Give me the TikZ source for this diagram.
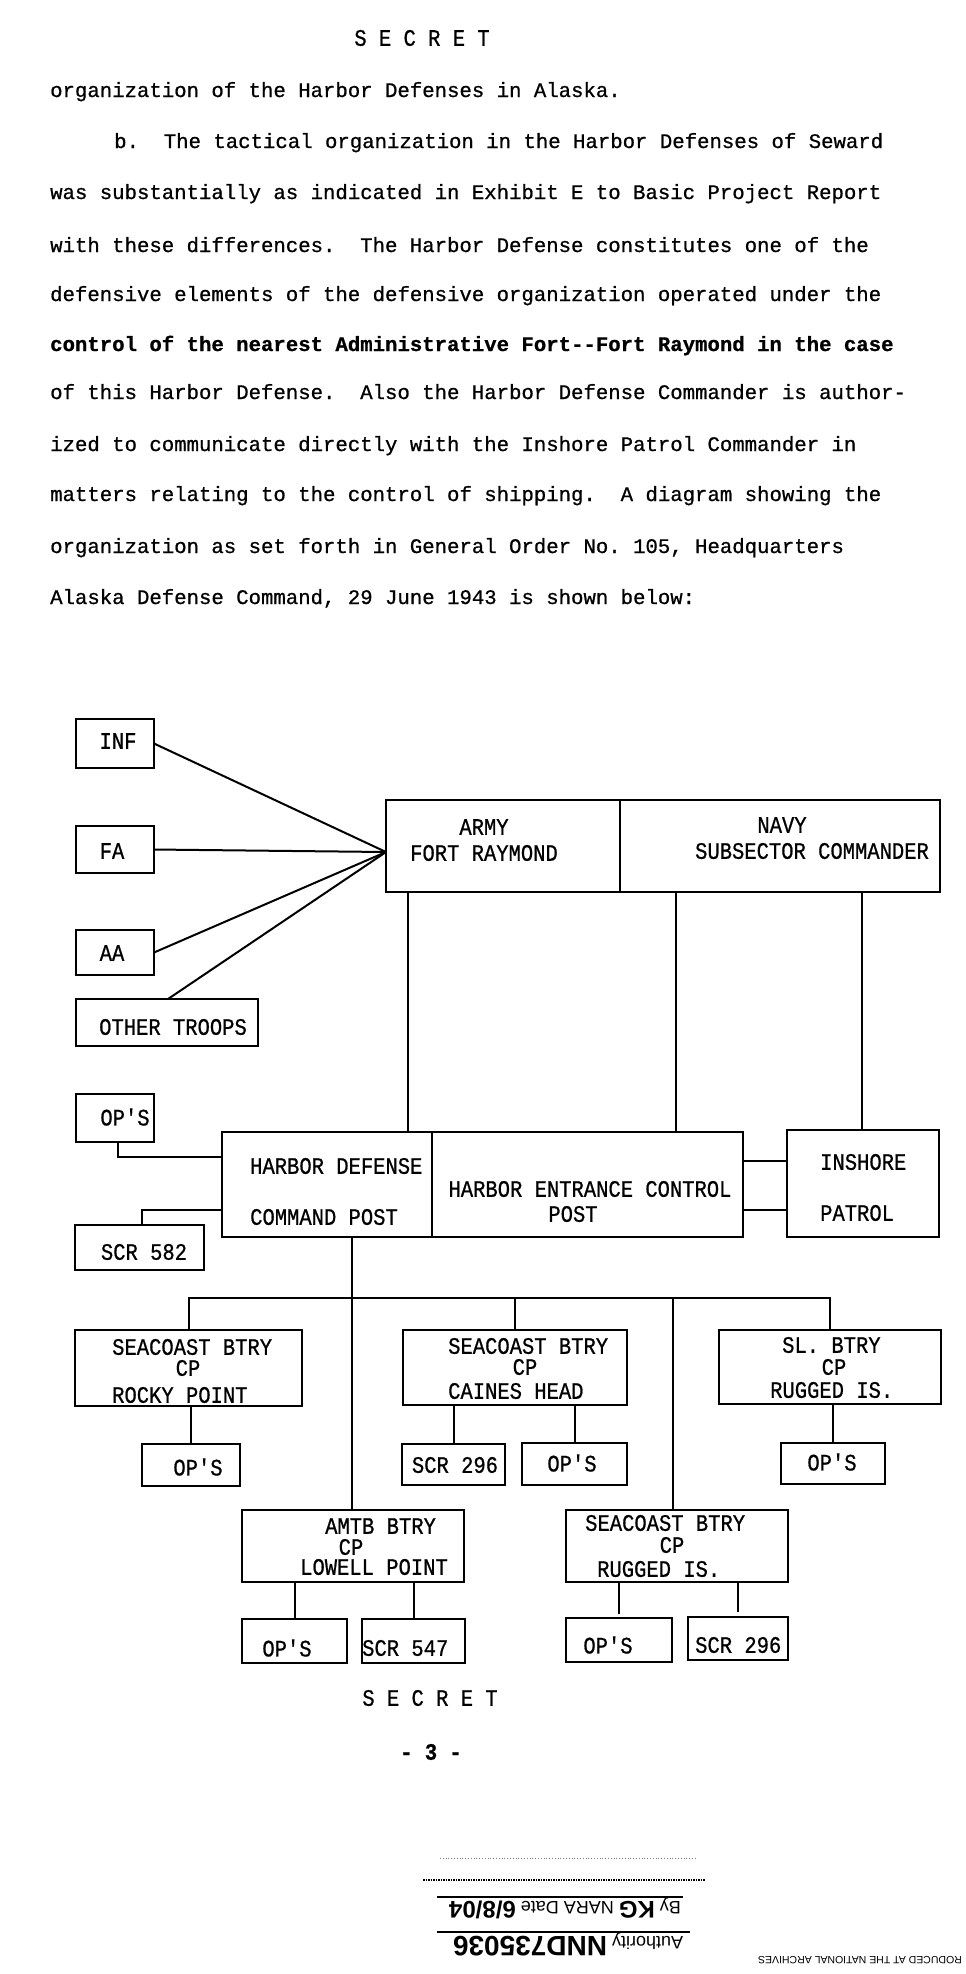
\documentclass[tikz,border=0pt]{standalone}
\usepackage{fontspec}
\setmainfont{Liberation Mono}[FakeBold=0.8]
\newfontfamily\stampfont{Liberation Sans}
\usetikzlibrary{calc}
\frenchspacing
\newcommand{\tl}[1]{\scalebox{1}[1.15]{#1}}
\newcommand{\ops}{OP\textquotesingle S}
\begin{document}
\begin{tikzpicture}[x=1pt,y=-1pt,
  box/.style={draw, line width=2pt, inner sep=0pt, outer sep=0pt, anchor=north west},
  conn/.style={line width=2pt},
  dt/.style={inner sep=0pt, font=\fontsize{20.5}{22}\selectfont},
  body/.style={inner sep=0pt, anchor=base west, font=\fontsize{20.67}{24}\selectfont},
  stamp/.style={inner sep=0pt, rotate=180, font=\stampfont\fontsize{18}{20}\selectfont}
]
\fill[white] (0,0) rectangle (966,1974);
\useasboundingbox (0,0) rectangle (966,1974);

% ---------- page text ----------
\node[dt] (sec1) at (422,38) {\tl{S E C R E T}};
\node[body] (l1) at (50,97) {organization of the Harbor Defenses in Alaska.};
\node[body] (l2) at (114,148) {b.\ \ The tactical organization in the Harbor Defenses of Seward};
\node[body] (l3) at (50,199) {was substantially as indicated in Exhibit E to Basic Project Report};
\node[body] (l4) at (50,252) {with these differences.\ \ The Harbor Defense constitutes one of the};
\node[body] (l5) at (50,301) {defensive elements of the defensive organization operated under the};
\node[body] (l6) at (50,351) {\bfseries control of the nearest Administrative Fort-{}-Fort Raymond in the case};
\node[body] (l7) at (50,399) {of this Harbor Defense.\ \ Also the Harbor Defense Commander is author-};
\node[body] (l8) at (50,451) {ized to communicate directly with the Inshore Patrol Commander in};
\node[body] (l9) at (50,501) {matters relating to the control of shipping.\ \ A diagram showing the};
\node[body] (l10) at (50,553) {organization as set forth in General Order No. 105, Headquarters};
\node[body] (l11) at (50,604) {Alaska Defense Command, 29 June 1943 is shown below:};

% ---------- boxes ----------
\node[box, minimum width=78pt, minimum height=49pt] (inf) at (76,719) {};
\node[box, minimum width=78pt, minimum height=47pt] (fa) at (76,826) {};
\node[box, minimum width=78pt, minimum height=45pt] (aa) at (76,930) {};
\node[box, minimum width=182pt, minimum height=47pt] (ot) at (76,999) {};
\node[box, minimum width=234pt, minimum height=92pt] (army) at (386,800) {};
\node[box, minimum width=320pt, minimum height=92pt] (navy) at (620,800) {};
\node[box, minimum width=78pt, minimum height=48pt] (opsA) at (76,1094) {};
\node[box, minimum width=210pt, minimum height=105pt] (hd) at (222,1132) {};
\node[box, minimum width=311pt, minimum height=105pt] (hecp) at (432,1132) {};
\node[box, minimum width=152pt, minimum height=107pt] (insh) at (787,1130) {};
\node[box, minimum width=129pt, minimum height=45pt] (scrA) at (75,1225) {};
\node[box, minimum width=227pt, minimum height=76pt] (rocky) at (75,1330) {};
\node[box, minimum width=98pt, minimum height=42pt] (rops) at (142,1444) {};
\node[box, minimum width=224pt, minimum height=75pt] (caines) at (403,1330) {};
\node[box, minimum width=103pt, minimum height=41pt] (cscr) at (402,1444) {};
\node[box, minimum width=105pt, minimum height=42pt] (cops) at (522,1443) {};
\node[box, minimum width=222pt, minimum height=74pt] (sl) at (719,1330) {};
\node[box, minimum width=104pt, minimum height=41pt] (slops) at (781,1443) {};
\node[box, minimum width=222pt, minimum height=72pt] (amtb) at (242,1510) {};
\node[box, minimum width=105pt, minimum height=44pt] (aops) at (242,1619) {};
\node[box, minimum width=103pt, minimum height=44pt] (ascr) at (362,1619) {};
\node[box, minimum width=222pt, minimum height=72pt] (rug) at (566,1510) {};
\node[box, minimum width=106pt, minimum height=44pt] (gops) at (566,1618) {};
\node[box, minimum width=100pt, minimum height=43pt] (gscr) at (688,1617) {};

% ---------- box texts ----------
\node[dt] (tINF) at (118,741) {\tl{INF}};
\node[dt] (tFA) at (112,851) {\tl{FA}};
\node[dt] (tAA) at (112,953) {\tl{AA}};
\node[dt] (tOT) at (173,1027) {\tl{OTHER TROOPS}};
\node[dt] (tARMY) at (484,827) {\tl{ARMY}};
\node[dt] (tFR) at (484,853) {\tl{FORT RAYMOND}};
\node[dt] (tNAVY) at (782,825) {\tl{NAVY}};
\node[dt] (tSUB) at (812,851) {\tl{SUBSECTOR COMMANDER}};
\node[dt] (tOPSA) at (125,1117) {\tl{\ops}};
\node[dt, anchor=west] (tHD1) at (250,1166) {\tl{HARBOR DEFENSE}};
\node[dt, anchor=west] (tHD2) at (250,1217) {\tl{COMMAND POST}};
\node[dt] (tHE1) at (590,1189) {\tl{HARBOR ENTRANCE CONTROL}};
\node[dt] (tHE2) at (573,1214) {\tl{POST}};
\node[dt, anchor=west] (tIN1) at (820,1162) {\tl{INSHORE}};
\node[dt, anchor=west] (tIN2) at (820,1213) {\tl{PATROL}};
\node[dt] (tSCRA) at (144,1252) {\tl{SCR 582}};
\node[dt, anchor=west] (tR1) at (112,1347) {\tl{SEACOAST BTRY}};
\node[dt] (tR2) at (188,1368) {\tl{CP}};
\node[dt, anchor=west] (tR3) at (112,1395) {\tl{ROCKY POINT}};
\node[dt] (tROPS) at (198,1467) {\tl{\ops}};
\node[dt, anchor=west] (tC1) at (448,1346) {\tl{SEACOAST BTRY}};
\node[dt] (tC2) at (525,1367) {\tl{CP}};
\node[dt, anchor=west] (tC3) at (448,1391) {\tl{CAINES HEAD}};
\node[dt] (tCSCR) at (455,1465) {\tl{SCR 296}};
\node[dt] (tCOPS) at (572,1463) {\tl{\ops}};
\node[dt, anchor=west] (tS1) at (782,1345) {\tl{SL. BTRY}};
\node[dt] (tS2) at (834,1367) {\tl{CP}};
\node[dt, anchor=west] (tS3) at (770,1390) {\tl{RUGGED IS.}};
\node[dt] (tSOPS) at (832,1462) {\tl{\ops}};
\node[dt, anchor=west] (tA1) at (325,1526) {\tl{AMTB BTRY}};
\node[dt] (tA2) at (351,1547) {\tl{CP}};
\node[dt, anchor=west] (tA3) at (300,1567) {\tl{LOWELL POINT}};
\node[dt] (tAOPS) at (287,1648) {\tl{\ops}};
\node[dt, anchor=west] (tASCR) at (362,1648) {\tl{SCR 547}};
\node[dt, anchor=west] (tG1) at (585,1523) {\tl{SEACOAST BTRY}};
\node[dt] (tG2) at (672,1545) {\tl{CP}};
\node[dt, anchor=west] (tG3) at (597,1569) {\tl{RUGGED IS.}};
\node[dt] (tGOPS) at (608,1645) {\tl{\ops}};
\node[dt, anchor=west] (tGSCR) at (695,1645) {\tl{SCR 296}};

% ---------- connectors ----------
\coordinate (conv) at (386,852);
\draw[conn] (inf.east) -- (conv);
\draw[conn] (fa.east) -- (conv);
\draw[conn] (aa.east) -- (conv);
\draw[conn] ($(ot.north west)+(92,0)$) -- (conv);

\coordinate (a1) at ($(army.south west)+(22,0)$);
\draw[conn] (a1) -- (a1 |- hd.north);
\coordinate (n1) at ($(navy.south west)+(56,0)$);
\draw[conn] (n1) -- (n1 |- hecp.north);
\coordinate (n2) at ($(navy.south west)+(242,0)$);
\draw[conn] (n2) -- (n2 |- insh.north);

\coordinate (h1) at ($(hecp.north east)+(0,29)$);
\draw[conn] (h1) -- (h1 -| insh.west);
\coordinate (h2) at ($(hecp.north east)+(0,78)$);
\draw[conn] (h2) -- (h2 -| insh.west);

\draw[conn] ($(opsA.south west)+(42,0)$) |- ($(hd.north west)+(0,25)$);
\draw[conn] ($(hd.south west)+(0,-27)$) -| ($(scrA.north west)+(67,0)$);

\coordinate (d1) at ($(hd.south west)+(130,0)$);
\draw[conn] (d1) -- (d1 |- amtb.north);

\coordinate (busY) at (0,1298);
\draw[conn] (rocky.north) |- (busY -| sl.north) -- (sl.north);
\draw[conn] (caines.north) -- (caines.north |- busY);
\coordinate (r1) at ($(rug.north west)+(107,0)$);
\draw[conn] (r1) -- (r1 |- busY);

\draw[conn] (rocky.south -| rops.north) -- (rops.north);
\draw[conn] (caines.south -| cscr.north) -- (cscr.north);
\draw[conn] (caines.south -| cops.north) -- (cops.north);
\draw[conn] (sl.south -| slops.north) -- (slops.north);
\draw[conn] (amtb.south -| aops.north) -- (aops.north);
\draw[conn] (amtb.south -| ascr.north) -- (ascr.north);
\draw[conn, shorten >=4pt] (rug.south -| gops.north) -- (gops.north);
\draw[conn, shorten >=5pt] (rug.south -| gscr.north) -- (gscr.north);

% ---------- footer ----------
\node[dt] (sec2) at (430,1698) {\tl{S E C R E T}};
\node[dt] (pg) at (431,1752) {\tl{\bfseries - 3 -}};

\draw[gray, line width=0.8pt, dotted] (440,1858) -- (697,1858);
\draw[line width=1.5pt, densely dotted] (423,1880) -- (705,1880);
\draw[line width=1.5pt] (437,1897) -- (683,1897);
\draw[line width=1.5pt] (437,1932) -- (690,1932);
\node[stamp] (st1) at (565,1908) {By \textbf{\fontsize{24}{24}\selectfont KG} NARA Date \textbf{\fontsize{24}{24}\selectfont 6/8/04}};
\node[stamp] (st2) at (568,1944) {Authority \textbf{\fontsize{28}{28}\selectfont NND735036}};
\node[stamp, font=\stampfont\fontsize{10.5}{12}\selectfont] (arch) at (860,1960) {RODUCED AT THE NATIONAL ARCHIVES};
\end{tikzpicture}
\end{document}
